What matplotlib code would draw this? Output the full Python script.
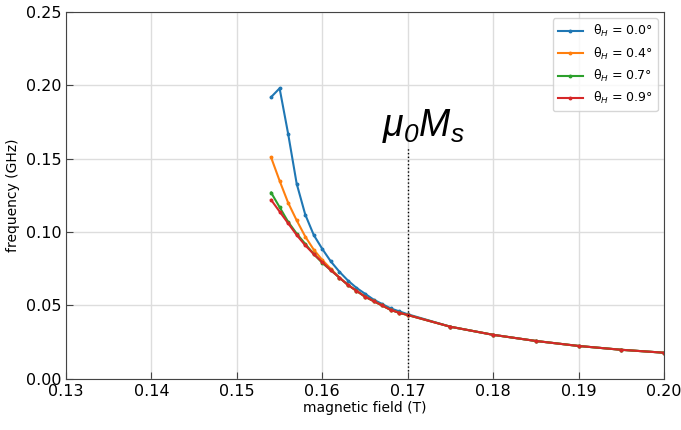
import matplotlib
matplotlib.use("Agg")
import matplotlib.pyplot as plt

plt.rcParams["mathtext.fontset"] = "custom"
plt.rcParams["mathtext.it"] = "Liberation Sans:italic"
plt.rcParams["mathtext.rm"] = "Liberation Sans:italic"

# field values (T)
field = [0.154, 0.155, 0.156, 0.157, 0.158, 0.159, 0.160, 0.161, 0.162, 0.163,
         0.164, 0.165, 0.166, 0.167, 0.168, 0.169, 0.170,
         0.175, 0.180, 0.185, 0.190, 0.195, 0.200]

tail = [0.0355, 0.0300, 0.0258, 0.0224, 0.0198, 0.0178]

freq_00 = [0.192, 0.198, 0.167, 0.133, 0.112, 0.098, 0.0885, 0.080, 0.073, 0.067,
           0.062, 0.058, 0.054, 0.051, 0.048, 0.046, 0.044] + tail
freq_04 = [0.151, 0.135, 0.120, 0.108, 0.097, 0.088, 0.081, 0.075, 0.069, 0.064,
           0.060, 0.056, 0.053, 0.050, 0.047, 0.045, 0.0435] + tail
freq_07 = [0.127, 0.117, 0.107, 0.099, 0.092, 0.085, 0.079, 0.074, 0.069, 0.064,
           0.060, 0.056, 0.053, 0.050, 0.047, 0.045, 0.0435] + tail
freq_09 = [0.122, 0.114, 0.106, 0.098, 0.091, 0.085, 0.0795, 0.074, 0.069, 0.064,
           0.060, 0.056, 0.053, 0.050, 0.047, 0.045, 0.0435] + tail

series = [(freq_00, "0.0"), (freq_04, "0.4"), (freq_07, "0.7"), (freq_09, "0.9")]

fig = plt.figure(figsize=(6.81, 4.30), dpi=100)
ax = fig.add_axes([0.097, 0.119, 0.878, 0.853])

for vals, ang in series:
    ax.plot(field, vals, marker="o", markersize=1.8, linewidth=1.5,
            label="θ$_H$ = " + ang + "°")

ax.vlines(0.17, 0.005, 0.158, colors="black", linestyles="dotted", linewidth=1)
ax.text(0.1718, 0.172, r"$\mu_0M_s$", fontsize=27, ha="center", va="center")

ax.set_xlim(0.13, 0.20)
ax.set_ylim(0.0, 0.25)
ax.set_xticks([0.13, 0.14, 0.15, 0.16, 0.17, 0.18, 0.19, 0.20])
ax.set_xticklabels(["0.13", "0.14", "0.15", "0.16", "0.17", "0.18", "0.19", "0.20"])
ax.set_yticks([0.0, 0.05, 0.10, 0.15, 0.20, 0.25])
ax.set_yticklabels(["0.00", "0.05", "0.10", "0.15", "0.20", "0.25"])
ax.tick_params(direction="in", labelsize=11.5, length=5, color="#444444")
ax.grid(True, color="#dddddd", linewidth=1)
for s in ax.spines.values():
    s.set_color("#444444")

ax.set_xlabel("magnetic field (T)", fontsize=10, labelpad=2)
ax.set_ylabel("frequency (GHz)", fontsize=10)
ax.legend(loc="upper right", fontsize=9)

fig.savefig("out.png", dpi=100)
